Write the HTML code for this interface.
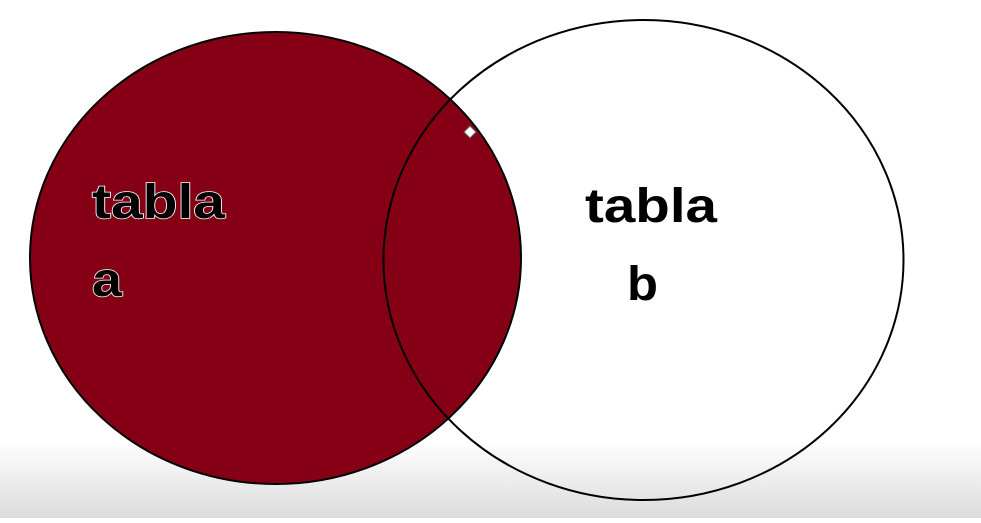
<!DOCTYPE html>
<html>
<head>
<meta charset="utf-8">
<style>
html,body{margin:0;padding:0;}
body{width:981px;height:518px;overflow:hidden;background:#fff;font-family:"Liberation Sans",sans-serif;}
</style>
</head>
<body>
<svg width="981" height="518" viewBox="0 0 981 518">
  <defs>
    <linearGradient id="bg" x1="0" y1="0" x2="0" y2="1">
      <stop offset="0" stop-color="#ffffff"/>
      <stop offset="1" stop-color="#dcdcdc"/>
    </linearGradient>
  </defs>
  <rect x="0" y="0" width="981" height="518" fill="#fff"/>
  <rect x="0" y="440" width="981" height="78" fill="url(#bg)"/>
  <ellipse cx="275.5" cy="258" rx="245.5" ry="226" fill="#850015" stroke="#000" stroke-width="2"/>
  <ellipse cx="643.5" cy="260" rx="260" ry="240" fill="none" stroke="#000" stroke-width="2"/>
  <g font-family="Liberation Sans, sans-serif" font-weight="bold" font-size="48">
    <text x="92" y="218" textLength="133" lengthAdjust="spacingAndGlyphs" fill="#000" stroke="#fff" stroke-width="1.5" paint-order="stroke">tabla</text>
    <text x="92" y="296" textLength="30" lengthAdjust="spacingAndGlyphs" fill="#000" stroke="#fff" stroke-width="1.5" paint-order="stroke">a</text>
    <text x="585" y="222" textLength="132" lengthAdjust="spacingAndGlyphs" fill="#000">tabla</text>
    <text x="627" y="300" textLength="31" lengthAdjust="spacingAndGlyphs" fill="#000">b</text>
  </g>
  <path d="M470 126 L476 132 L470 138 L464 132 Z" fill="#fff" stroke="#666" stroke-width="1"/>
</svg>
</body>
</html>
